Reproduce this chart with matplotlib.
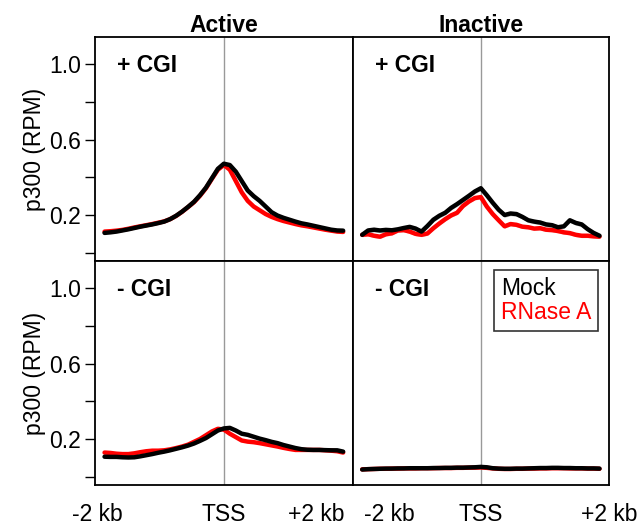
import numpy as np
import matplotlib
matplotlib.use("Agg")
import matplotlib.pyplot as plt
from matplotlib.lines import Line2D

plt.rcParams['font.family'] = ['Liberation Sans', 'DejaVu Sans']

# === dados (p300 RPM, janelas de 100 bp em torno do TSS) ===
pos_bp = np.arange(-2000, 2001, 100)

active_cgi_mock = [0.105, 0.108, 0.112, 0.118, 0.124, 0.131, 0.138, 0.144, 0.150, 0.157,
                   0.165, 0.178, 0.196, 0.218, 0.243, 0.270, 0.305, 0.345, 0.395, 0.445,
                   0.472, 0.465, 0.430, 0.380, 0.330, 0.300, 0.275, 0.245, 0.215, 0.197,
                   0.185, 0.175, 0.165, 0.156, 0.150, 0.143, 0.136, 0.129, 0.122, 0.118, 0.117]
active_cgi_rnase = [0.112, 0.114, 0.117, 0.121, 0.127, 0.134, 0.140, 0.146, 0.152, 0.159,
                    0.166, 0.178, 0.195, 0.217, 0.242, 0.268, 0.302, 0.342, 0.392, 0.440,
                    0.465, 0.440, 0.380, 0.320, 0.275, 0.245, 0.225, 0.205, 0.190, 0.178,
                    0.168, 0.160, 0.152, 0.145, 0.140, 0.134, 0.128, 0.122, 0.117, 0.112, 0.110]

inactive_cgi_mock = [0.095, 0.118, 0.122, 0.118, 0.121, 0.119, 0.124, 0.131, 0.137, 0.128,
                     0.112, 0.142, 0.175, 0.196, 0.212, 0.238, 0.258, 0.280, 0.302, 0.325,
                     0.342, 0.305, 0.265, 0.228, 0.200, 0.208, 0.205, 0.190, 0.172, 0.165,
                     0.160, 0.150, 0.146, 0.135, 0.140, 0.172, 0.158, 0.150, 0.125, 0.105, 0.090]
inactive_cgi_rnase = [0.095, 0.098, 0.090, 0.085, 0.098, 0.103, 0.118, 0.120, 0.112, 0.100,
                      0.095, 0.102, 0.130, 0.155, 0.178, 0.198, 0.212, 0.248, 0.272, 0.290,
                      0.295, 0.245, 0.205, 0.172, 0.140, 0.152, 0.148, 0.138, 0.135, 0.128,
                      0.130, 0.122, 0.120, 0.115, 0.108, 0.104, 0.095, 0.090, 0.090, 0.087, 0.085]

active_nocgi_mock = [0.106, 0.105, 0.105, 0.103, 0.102, 0.103, 0.108, 0.114, 0.120, 0.127,
                     0.133, 0.140, 0.148, 0.156, 0.165, 0.176, 0.190, 0.205, 0.225, 0.245,
                     0.256, 0.259, 0.245, 0.228, 0.222, 0.212, 0.202, 0.194, 0.185, 0.178,
                     0.168, 0.160, 0.152, 0.146, 0.143, 0.142, 0.142, 0.141, 0.140, 0.140, 0.133]
active_nocgi_rnase = [0.128, 0.126, 0.122, 0.120, 0.120, 0.124, 0.130, 0.135, 0.138, 0.138,
                      0.140, 0.145, 0.152, 0.160, 0.170, 0.185, 0.200, 0.220, 0.240, 0.254,
                      0.250, 0.228, 0.210, 0.192, 0.186, 0.183, 0.178, 0.172, 0.166, 0.160,
                      0.153, 0.147, 0.142, 0.142, 0.142, 0.142, 0.142, 0.140, 0.138, 0.135, 0.128]

inactive_nocgi_mock = [0.038, 0.040, 0.041, 0.042, 0.043, 0.043, 0.044, 0.044, 0.045, 0.045,
                       0.045, 0.045, 0.046, 0.046, 0.047, 0.047, 0.048, 0.048, 0.049, 0.050,
                       0.052, 0.050, 0.045, 0.043, 0.042, 0.042, 0.043, 0.043, 0.044, 0.045,
                       0.046, 0.046, 0.047, 0.047, 0.046, 0.046, 0.045, 0.045, 0.044, 0.044, 0.043]
inactive_nocgi_rnase = [0.039, 0.040, 0.041, 0.042, 0.042, 0.043, 0.043, 0.044, 0.044, 0.044,
                        0.045, 0.045, 0.045, 0.046, 0.046, 0.046, 0.047, 0.047, 0.048, 0.048,
                        0.049, 0.047, 0.044, 0.042, 0.041, 0.041, 0.042, 0.042, 0.043, 0.043,
                        0.044, 0.044, 0.045, 0.045, 0.045, 0.044, 0.044, 0.044, 0.043, 0.043, 0.042]

# faixa de erro (so no painel inativo + CGI)
banda_mock = 0.012
banda_rnase = 0.010

colunas = ["Active", "Inactive"]
linhas = ["+ CGI", "- CGI"]
x_rotulos = ["-2 kb", "TSS", "+2 kb"]
x_pos_esq = [-2117, 0, 1557]
x_pos_dir = [-1538, 0, 2160]
y_ticks = [0.0, 0.2, 0.4, 0.6, 0.8, 1.0]
y_rotulos = ["", "0.2", "", "0.6", "", "1.0"]
legenda = ["Mock", "RNase A"]

dados = {
    (0, 0): (active_cgi_mock, active_cgi_rnase),
    (0, 1): (inactive_cgi_mock, inactive_cgi_rnase),
    (1, 0): (active_nocgi_mock, active_nocgi_rnase),
    (1, 1): (inactive_nocgi_mock, inactive_nocgi_rnase),
}

# === figura ===
fig = plt.figure(figsize=(6.41, 5.30), dpi=100)
W, H = 641, 530
esq = [95, 352.7]
larg = [257.7, 256.3]
topo = [37, 261]
alt = 224

fs = 16.5
for (i, j), (mock, rnase) in dados.items():
    ax = fig.add_axes([esq[j] / W, 1 - (topo[i] + alt) / H, larg[j] / W, alt / H])
    ax.set_xlim(-2000 - 160, 2000 + 160)
    ax.set_ylim(-0.044, 1.144)
    ax.axvline(0, color="#999999", lw=1.0, zorder=1)

    if (i, j) == (0, 1):
        ax.fill_between(pos_bp, np.array(rnase) - banda_rnase, np.array(rnase) + banda_rnase,
                        color="#f4b4b4", lw=0, zorder=2)
        ax.fill_between(pos_bp, np.array(mock) - banda_mock, np.array(mock) + banda_mock,
                        color="#c8c8c8", lw=0, zorder=2)
    ax.plot(pos_bp, rnase, color="red", lw=3.2, zorder=3, solid_capstyle="round")
    ax.plot(pos_bp, mock, color="black", lw=3.2, zorder=4, solid_capstyle="round")

    for s in ax.spines.values():
        s.set_linewidth(1.3)

    if j == 0:
        ax.set_yticks(y_ticks)
        ax.set_yticklabels(y_rotulos, fontsize=fs)
        ax.tick_params(axis="y", length=7, width=1.0, pad=3)
        ax.set_ylabel("p300 (RPM)", fontsize=fs, labelpad=2)
    else:
        ax.set_yticks([])

    if i == 1:
        ax.set_xticks(x_pos_esq if j == 0 else x_pos_dir)
        ax.set_xticklabels(x_rotulos, fontsize=fs)
        ax.tick_params(axis="x", length=0, pad=13)
    else:
        ax.set_xticks([])
        ax.set_title(colunas[j], fontsize=fs, fontweight="bold", pad=2)

    ax.text(22 / larg[j], 1 - 34.5 / alt, linhas[i], transform=ax.transAxes,
            fontsize=fs, fontweight="bold", va="baseline", ha="left")

    if (i, j) == (1, 1):
        handles = [Line2D([], [], lw=0), Line2D([], [], lw=0)]
        leg = ax.legend(handles, legenda, loc="upper right",
                        bbox_to_anchor=(1 - 11 / larg[j], 1 - 9 / alt),
                        handlelength=0, handletextpad=0, labelcolor=["black", "red"],
                        fontsize=fs, frameon=True, fancybox=False, edgecolor="black",
                        borderpad=0.3, labelspacing=0.05, borderaxespad=0)
        leg.get_frame().set_linewidth(1.2)

fig.savefig("out.png", dpi=100)
